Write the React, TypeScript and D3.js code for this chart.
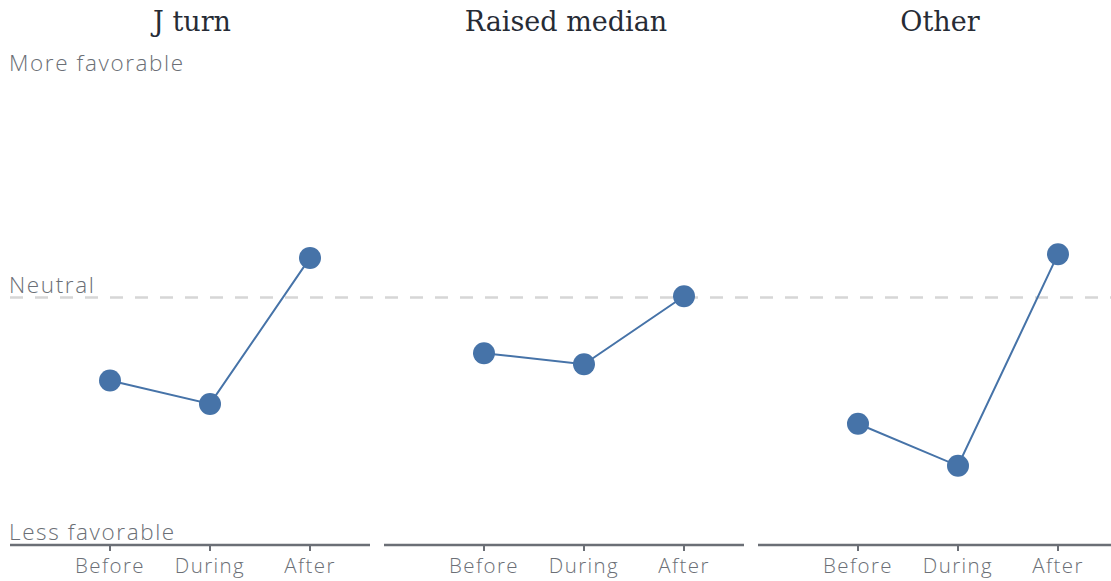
import React from "react";
import * as d3 from "d3";

const periods = ["Before", "During", "After"];
const panelTitles = ["J turn", "Raised median", "Other"];
const jTurnValues = [-0.335, -0.43, 0.16];
const raisedMedianValues = [-0.225, -0.27, 0.005];
const otherValues = [-0.51, -0.68, 0.175];
const yLabels = ["More favorable", "Neutral", "Less favorable"];

const seriesList = [jTurnValues, raisedMedianValues, otherValues];

const W = 1111;
const H = 581;
const panelStart = 10;
const panelStride = 374;
const panelWidth = 360;
const yTop = 50;
const yBottom = 545;
const blue = "#4673a8";
const gray = "#6b6f76";
const sans = "'Open Sans', Lato, sans-serif";

export default function App() {
  const y = d3.scaleLinear().domain([-1, 1]).range([yBottom, yTop]);
  const x = d3.scalePoint<string>().domain(periods).range([0, 400]).padding(1);
  const line = d3
    .line<number>()
    .x((_, i) => x(periods[i]) as number)
    .y((v) => y(v));

  const labelProps = {
    fontFamily: sans,
    fontWeight: 300,
    fontSize: 22.5,
    letterSpacing: 1.6,
    fill: gray,
  };

  return (
    <svg width={W} height={H} style={{ position: "absolute", left: 0, top: 0 }}>
      <line
        x1={panelStart}
        x2={W}
        y1={y(0)}
        y2={y(0)}
        stroke="#d6d6d6"
        strokeWidth={2.5}
        strokeDasharray="13,12"
      />
      {seriesList.map((vals, p) => {
        const x0 = panelStart + p * panelStride;
        return (
          <g key={p} transform={`translate(${x0},0)`}>
            <text
              x={panelWidth / 2 + 2}
              y={31}
              textAnchor="middle"
              fontFamily="'DejaVu Serif', serif"
              fontSize={27}
              fill="#262b35"
            >
              {panelTitles[p]}
            </text>
            <line x1={0} x2={panelWidth} y1={yBottom} y2={yBottom} stroke={gray} strokeWidth={2.5} />
            {periods.map((c) => (
              <g key={c} transform={`translate(${x(c)},0)`}>
                <line y1={yBottom} y2={yBottom + 6} stroke={gray} strokeWidth={2} />
                <text
                  y={573}
                  textAnchor="middle"
                  fontFamily={sans}
                  fontWeight={300}
                  fontSize={20.5}
                  letterSpacing={1.4}
                  fill={gray}
                >
                  {c}
                </text>
              </g>
            ))}
            <path d={line(vals) || ""} fill="none" stroke={blue} strokeWidth={2} />
            {vals.map((v, i) => (
              <circle key={i} cx={x(periods[i])} cy={y(v)} r={11} fill={blue} />
            ))}
          </g>
        );
      })}
      <text x={9} y={71} {...labelProps}>
        {yLabels[0]}
      </text>
      <text x={9} y={293} {...labelProps}>
        {yLabels[1]}
      </text>
      <text x={9} y={540} {...labelProps}>
        {yLabels[2]}
      </text>
    </svg>
  );
}
